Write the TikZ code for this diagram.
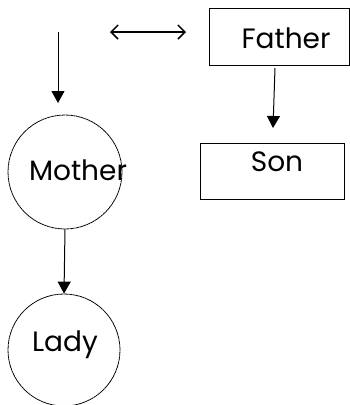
\documentclass[tikz,border=0pt]{standalone}
\usepackage{fontspec}
\setmainfont{Poppins}
\usetikzlibrary{arrows.meta}
\begin{document}
\begin{tikzpicture}[x=1pt,y=-1pt,
  every node/.style={font=\fontsize{28}{30}\selectfont, inner sep=0pt},
  boxnode/.style={draw, line width=0.8pt, rectangle},
  circnode/.style={draw, line width=0.8pt, circle, dash pattern=on 2pt off 0.4pt},
  conn/.style={line width=1pt, -{Triangle[length=12pt,width=13pt]}},
  dbl/.style={line width=1.2pt, {Straight Barb[length=7pt,width=14pt,line width=1.5pt]}-{Straight Barb[length=7pt,width=14pt,line width=1.5pt]}}]
\useasboundingbox (0,0) rectangle (350,405);
% nodes
\node[boxnode, minimum width=140pt, minimum height=57pt] (father) at (279,36.5) {};
\node (fathertext) at (286,38) {Father};
\node[boxnode, minimum width=144pt, minimum height=56pt] (son) at (272,171) {};
\node (sontext) at (277,162) {Son};
\node[circnode, minimum size=114pt] (mother) at (65,172) {};
\node (mothertext) at (78,170) {Mother};
\node[circnode, minimum size=112pt] (lady) at (64,350) {};
\node (ladytext) at (65,345) {Lady};
% free ends
\coordinate (a1) at (58,32);
\coordinate (a2) at (58,103);
\coordinate (b1) at (110,32);
\coordinate (b2) at (186,32);
\coordinate (c1) at (275,68);
\coordinate (c2) at (273,128);
% connectors
\draw[conn] (a1) -- (a2);
\draw[dbl] (b1) -- (b2);
\draw[conn] (c1) -- (c2);
\draw[conn] (mother.south) -- (lady.north);
\end{tikzpicture}
\end{document}
